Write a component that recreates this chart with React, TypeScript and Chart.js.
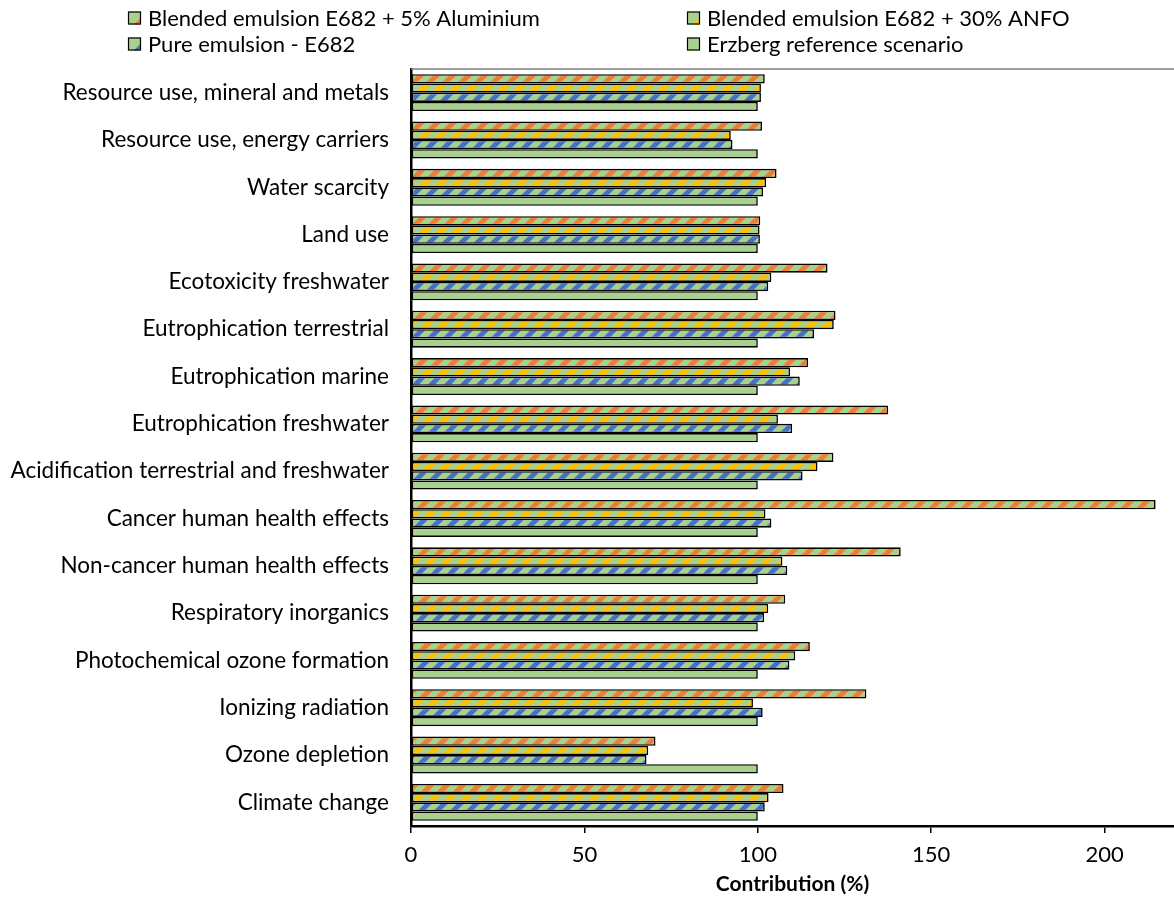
import React, { useEffect, useRef } from 'react';
import { Chart, registerables } from 'chart.js';

Chart.register(...registerables);

const categories = [
  'Resource use, mineral and metals',
  'Resource use, energy carriers',
  'Water scarcity',
  'Land use',
  'Ecotoxicity freshwater',
  'Eutrophication terrestrial',
  'Eutrophication marine',
  'Eutrophication freshwater',
  'Acidification terrestrial and freshwater',
  'Cancer human health effects',
  'Non-cancer human health effects',
  'Respiratory inorganics',
  'Photochemical ozone formation',
  'Ionizing radiation',
  'Ozone depletion',
  'Climate change',
];

const seriesNames = [
  'Blended emulsion E682 + 5% Aluminium',
  'Blended emulsion E682 + 30% ANFO',
  'Pure emulsion - E682',
  'Erzberg reference scenario',
];

const aluminium5 = [102.0, 101.2, 105.4, 100.7, 120.1, 122.4, 114.5, 137.6, 121.8, 214.7, 141.2, 107.9, 115.0, 131.3, 70.5, 107.4];
const anfo30 = [100.9, 92.2, 102.4, 100.5, 103.9, 121.9, 109.3, 105.8, 117.2, 102.2, 107.1, 103.0, 110.8, 98.6, 68.4, 103.1];
const pureEmulsion = [100.9, 92.7, 101.5, 100.6, 103.0, 116.2, 112.1, 109.9, 112.9, 103.9, 108.5, 101.8, 109.1, 101.4, 67.9, 102.0];
const erzberg = [100, 100, 100, 100, 100, 100, 100, 100, 100, 100, 100, 100, 100, 100, 100, 100];

const xTicks = [0, 50, 100, 150, 200];
const xTitle = 'Contribution (%)';

const GREEN = '#A9D18E';
const STRIPE_COLORS: (string | null)[] = ['#ED7D31', '#FFC000', '#4472C4', null];
const FONT = 'Lato, "Noto Sans", sans-serif';

function makePattern(color: string | null): CanvasPattern | string {
  if (!color) return GREEN;
  const c = document.createElement('canvas');
  c.width = 16;
  c.height = 16;
  const g = c.getContext('2d')!;
  g.fillStyle = GREEN;
  g.fillRect(0, 0, 16, 16);
  g.strokeStyle = color;
  g.lineWidth = 5;
  for (const cc of [-16, 0, 16, 32, 48]) {
    g.beginPath();
    g.moveTo(cc + 4, -4);
    g.lineTo(cc - 20, 20);
    g.stroke();
  }
  return g.createPattern(c, 'repeat')!;
}

const legendPlugin = {
  id: 'customLegend',
  afterDraw(chart: any) {
    const ctx = chart.ctx as CanvasRenderingContext2D;
    const pos = [
      { x: 128, y: 18 },
      { x: 687, y: 18 },
      { x: 128, y: 44 },
      { x: 687, y: 44 },
    ];
    ctx.save();
    ctx.font = `22px ${FONT}`;
    ctx.textBaseline = 'middle';
    ctx.textAlign = 'left';
    seriesNames.forEach((name, i) => {
      const { x, y } = pos[i];
      const s = 13;
      const top = y - s / 2;
      ctx.fillStyle = GREEN;
      ctx.fillRect(x, top, s, s);
      const col = STRIPE_COLORS[i];
      if (col) {
        ctx.fillStyle = col;
        ctx.beginPath();
        ctx.moveTo(x + s * 0.45, top + s);
        ctx.lineTo(x + s, top + s * 0.45);
        ctx.lineTo(x + s, top + s * 0.8);
        ctx.lineTo(x + s * 0.8, top + s);
        ctx.closePath();
        ctx.fill();
      }
      ctx.strokeStyle = '#000';
      ctx.lineWidth = 1.2;
      ctx.strokeRect(x + 0.5, top + 0.5, s - 1, s - 1);
      ctx.fillStyle = '#000';
      ctx.fillText(name, x + 20, y + 1);
    });
    // top border of plot area
    const a = chart.chartArea;
    ctx.strokeStyle = '#7f7f7f';
    ctx.lineWidth = 1.5;
    ctx.beginPath();
    ctx.moveTo(a.left, a.top);
    ctx.lineTo(a.right, a.top);
    ctx.stroke();
    ctx.restore();
  },
};

export default function App() {
  const ref = useRef<HTMLCanvasElement>(null);

  useEffect(() => {
    if (!ref.current) return;
    const values = [aluminium5, anfo30, pureEmulsion, erzberg];
    const chart = new Chart(ref.current, {
      type: 'bar',
      data: {
        labels: categories,
        datasets: values.map((v, i) => ({
          label: seriesNames[i],
          data: v,
          backgroundColor: makePattern(STRIPE_COLORS[i]) as any,
          borderColor: '#000',
          borderWidth: 1.6,
          borderSkipped: false,
          categoryPercentage: 0.78,
          barPercentage: 1.0,
        })),
      },
      plugins: [legendPlugin],
      options: {
        indexAxis: 'y',
        responsive: false,
        animation: false,
        devicePixelRatio: 1,
        layout: { padding: { top: 69, right: 0, bottom: 0, left: 0 } },
        plugins: {
          legend: { display: false },
          tooltip: { enabled: false },
        },
        scales: {
          x: {
            type: 'linear',
            min: 0,
            max: 220,
            afterBuildTicks: (scale: any) => {
              scale.ticks = xTicks.map((v) => ({ value: v }));
            },
            afterFit: (scale: any) => {
              scale.height = 76;
            },
            grid: {
              display: true,
              drawOnChartArea: false,
              drawTicks: true,
              tickLength: 7,
              color: '#000',
              lineWidth: 1.5,
            },
            border: { display: true, color: '#000', width: 2.5 },
            ticks: {
              color: '#000',
              font: { family: FONT, size: 22 },
              padding: 9,
            },
            title: {
              display: true,
              text: xTitle,
              color: '#000',
              font: { family: FONT, size: 21, weight: 'bold' },
              padding: { top: 2, bottom: 5 },
            },
          },
          y: {
            type: 'category',
            afterFit: (scale: any) => {
              scale.width = 411;
            },
            grid: { display: true, drawOnChartArea: false, drawTicks: false },
            border: { display: true, color: '#000', width: 2.5 },
            ticks: {
              color: '#000',
              font: { family: FONT, size: 22.5 },
              padding: 22,
              autoSkip: false,
            },
          },
        },
      },
    });
    return () => chart.destroy();
  }, []);

  return (
    <div style={{ position: 'fixed', left: 0, top: 0, width: 1174, height: 902, background: '#fff' }}>
      <canvas ref={ref} width={1174} height={902} style={{ width: 1174, height: 902, display: 'block' }} />
    </div>
  );
}
